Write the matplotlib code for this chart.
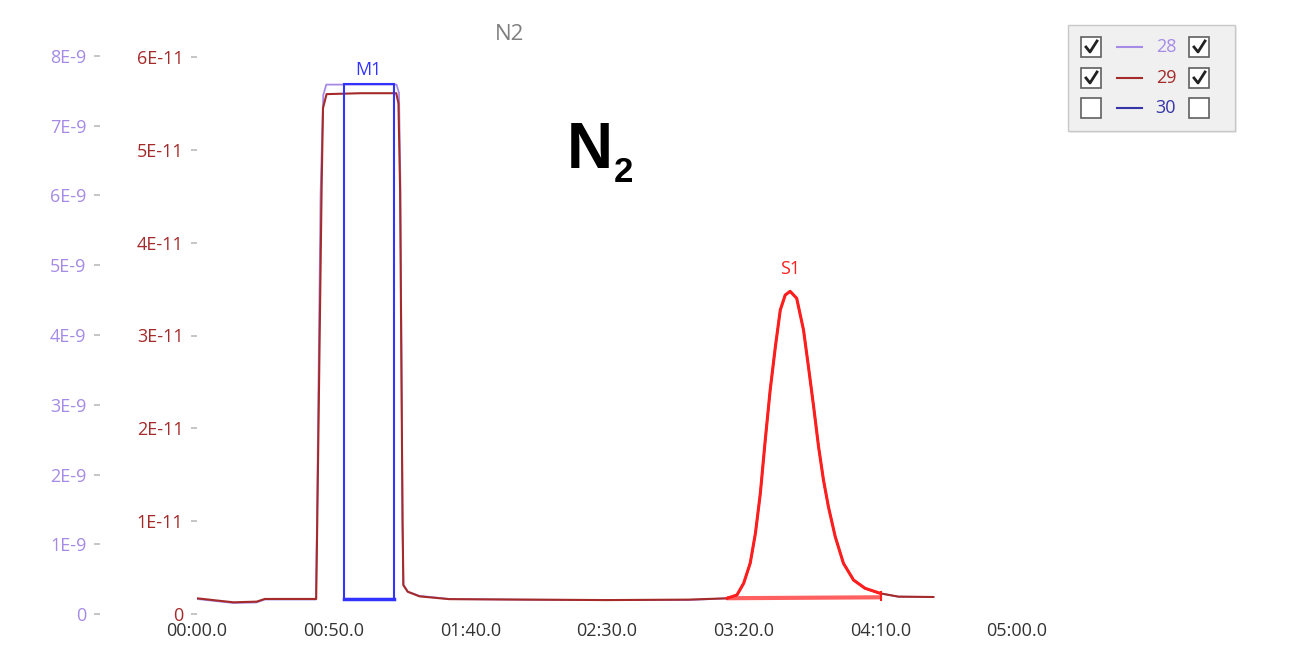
import matplotlib
matplotlib.use("Agg")
import matplotlib.pyplot as plt
from matplotlib.patches import Rectangle
from matplotlib.lines import Line2D
from matplotlib.ticker import FuncFormatter

W, H = 1309, 646

# ---- data (time in s) ----
t_28 = [0, 13.3, 21.8, 24.8, 43.5, 43.9, 45.2, 46.2, 47.3, 60, 73.0, 73.9, 74.4,
        75.2, 75.5, 77.1, 81.4, 92.3, 120, 150, 180, 193.9, 197.55, 200.0, 202.4,
        204.3, 206.1, 207.9, 209.7, 211.6, 213.4, 215.2, 217.0, 219.4, 221.9,
        223.7, 225.6, 227.4, 229.2, 231.0, 233.5, 236.5, 240.2, 244.4, 249.9,
        256.6, 269.4]
ion_28 = [0.215, 0.158, 0.165, 0.208, 0.208, 1.3, 6.0, 7.44, 7.59, 7.59, 7.59, 7.47,
          6.2, 1.3, 0.42, 0.32, 0.26, 0.215, 0.205, 0.2, 0.2, 0.225, 0.272, 0.44,
          0.727, 1.157, 1.73, 2.495, 3.211, 3.832, 4.358, 4.573, 4.627, 4.526,
          4.072, 3.546, 2.972, 2.399, 1.921, 1.538, 1.108, 0.727, 0.487, 0.368,
          0.296, 0.248, 0.244]  # x 1E-9

t_29 = [0, 13.3, 21.8, 24.8, 43.6, 44.0, 45.6, 46.1, 47.4, 60, 72.9, 73.7, 74.3,
        75.2, 75.5, 77.1, 81.4, 92.3, 120, 150, 180, 193.9, 197.55, 200.0, 202.4,
        204.3, 206.1, 207.9, 209.7, 211.6, 213.4, 215.2, 217.0, 219.4, 221.9,
        223.7, 225.6, 227.4, 229.2, 231.0, 233.5, 236.5, 240.2, 244.4, 249.9,
        256.6, 269.4]
ion_29 = [0.169, 0.126, 0.133, 0.162, 0.162, 1.0, 4.6, 5.45, 5.6, 5.61, 5.61, 5.5,
          4.57, 1.0, 0.31, 0.24, 0.19, 0.16, 0.155, 0.15, 0.155, 0.169, 0.205, 0.331,
          0.548, 0.869, 1.30, 1.874, 2.413, 2.879, 3.275, 3.436, 3.476, 3.401,
          3.059, 2.664, 2.233, 1.802, 1.443, 1.156, 0.833, 0.546, 0.366, 0.277,
          0.223, 0.187, 0.183]  # x 1E-11

m1_range = (53.8, 72.0)
m1_levels = (0.16, 5.71)   # x 1E-11
s1_range = (193.9, 250.4)
s1_base = (0.17, 0.18)     # x 1E-11

x_ticks = [0, 50, 100, 150, 200, 250, 300]
y29_ticks = [0, 1, 2, 3, 4, 5, 6]           # x 1E-11
y28_ticks = [0, 1, 2, 3, 4, 5, 6, 7, 8]     # x 1E-9

legend_masses = ["28", "29", "30"]
legend_left_checked = [True, True, False]
legend_right_checked = [True, True, False]

c28 = "#a58be6"
c29 = "#a52a2a"
c30 = "#3535a8"
c_m1 = "#3333ff"
c_s1 = "#ff1e1e"
font = "Open Sans"
fs = 13

plt.rcParams["font.family"] = [font, "DejaVu Sans"]

fig = plt.figure(figsize=(W / 100, H / 100), dpi=100)
ax = fig.add_axes([197 / W, (H - 614) / H, (1017 - 197) / W, (614 - 56) / H])
ax28 = ax.twinx()
ax28.set_zorder(ax.get_zorder() - 1)
ax.patch.set_visible(False)

ax28.plot(t_28, [v * 1e-9 for v in ion_28], color=c28, lw=1.3)
ax.plot(t_29, [v * 1e-11 for v in ion_29], color=c29, lw=1.5)

# S1 highlight
ts = [t for t in t_29 if s1_range[0] <= t <= s1_range[1]]
vs = [v * 1e-11 for t, v in zip(t_29, ion_29) if s1_range[0] <= t <= s1_range[1]]
ax.plot(ts, vs, color=c_s1, lw=2.2, zorder=4, solid_joinstyle="round")
ax.plot(s1_range, [s1_base[0] * 1e-11, s1_base[1] * 1e-11], color=c_s1, lw=3,
        alpha=0.7, solid_capstyle="butt", zorder=4)
ax.plot([s1_range[1], s1_range[1]], [s1_base[1] * 1e-11 - 0.03e-11, s1_base[1] * 1e-11 + 0.06e-11],
        color=c_s1, lw=1.5, zorder=4)
peak = max(vs)
ax.annotate("S1", (ts[vs.index(peak)], peak), xytext=(0, 16), textcoords="offset points",
            ha="center", va="center", color=c_s1, fontsize=fs)

# M1 box
ax.add_patch(Rectangle((m1_range[0], m1_levels[0] * 1e-11), m1_range[1] - m1_range[0],
                       (m1_levels[1] - m1_levels[0]) * 1e-11, fill=False,
                       edgecolor=c_m1, lw=1.5, zorder=5))
ax.plot(m1_range, [m1_levels[0] * 1e-11] * 2, color=c_m1, lw=2.5, zorder=5)
ax.annotate("M1", ((m1_range[0] + m1_range[1]) / 2, m1_levels[1] * 1e-11),
            xytext=(0, 10), textcoords="offset points", ha="center", va="center",
            color=c_m1, fontsize=fs)

# axes styling
ax.set_xlim(0, 300)
ax.set_ylim(0, 6e-11 * 558 / 557)
ax28.set_ylim(0, 8e-9)
ax.set_xticks(x_ticks)
ax.xaxis.set_major_formatter(FuncFormatter(lambda v, p: f"{int(v // 60):02d}:{v % 60:04.1f}"))
ax.set_yticks([v * 1e-11 for v in y29_ticks])
ax.yaxis.set_major_formatter(FuncFormatter(lambda v, p: "0" if abs(v) < 1e-14 else f"{v / 1e-11:.0f}E-11"))
ax28.set_yticks([v * 1e-9 for v in y28_ticks])
ax28.yaxis.set_major_formatter(FuncFormatter(lambda v, p: "0" if abs(v) < 1e-12 else f"{v / 1e-9:.0f}E-9"))
ax28.yaxis.tick_left()
ax28.spines["left"].set_position(("outward", 97 * 0.72))
for a in (ax, ax28):
    for s in a.spines.values():
        s.set_visible(False)
ax.tick_params(axis="x", length=0, pad=6.0, labelsize=fs, labelcolor="#333333")
ax.tick_params(axis="y", length=4.3, width=1.2, color="#bbbbbb", pad=5.5,
               labelsize=fs, labelcolor=c29)
ax28.tick_params(axis="y", length=4.3, width=1.2, color="#bbbbbb", pad=5.5,
                 labelsize=fs, labelcolor=c28)
ax28.tick_params(axis="x", length=0)


def fx(px):
    return px / W


def fy(py):
    return 1 - py / H


fig.text(fx(510), fy(34), "N2", ha="center", va="center", color="#7f7f7f", fontsize=16)
fig.text(fx(567), fy(168), "N", ha="left", va="baseline", fontsize=46,
         fontweight="bold", family="Liberation Sans")
fig.text(fx(614), fy(182), "2", ha="left", va="baseline", fontsize=25,
         fontweight="bold", family="Liberation Sans")

# legend panel
fig.add_artist(Rectangle((fx(1070), fy(133)), (1237 - 1070) / W, (133 - 27) / H,
                         transform=fig.transFigure, facecolor="#e4e4e4",
                         edgecolor="none", alpha=0.6))
fig.add_artist(Rectangle((fx(1068), fy(131)), (1235 - 1068) / W, (131 - 25) / H,
                         transform=fig.transFigure, facecolor="#f0f0f0",
                         edgecolor="#c8c8c8", lw=1))


def checkbox(x0, cy, checked):
    fig.add_artist(Rectangle((fx(x0), fy(cy + 10)), 20 / W, 20 / H,
                             transform=fig.transFigure, facecolor="white",
                             edgecolor="#606060", lw=1.2))
    if checked:
        fig.add_artist(Line2D([fx(x0 + 5), fx(x0 + 9), fx(x0 + 16)],
                              [fy(cy), fy(cy + 5), fy(cy - 6)],
                              transform=fig.transFigure, color="#222222", lw=2.0))


rows_y = [47, 78, 108]
colors = [c28, c29, c30]
for mass, cy, col, lc, rc in zip(legend_masses, rows_y, colors,
                                 legend_left_checked, legend_right_checked):
    checkbox(1081, cy, lc)
    checkbox(1189, cy, rc)
    fig.add_artist(Line2D([fx(1117), fx(1142)], [fy(cy), fy(cy)],
                          transform=fig.transFigure, color=col, lw=1.5))
    fig.text(fx(1166), fy(cy), mass, ha="center", va="center", color=col, fontsize=fs)

fig.savefig("out.png", dpi=100)
